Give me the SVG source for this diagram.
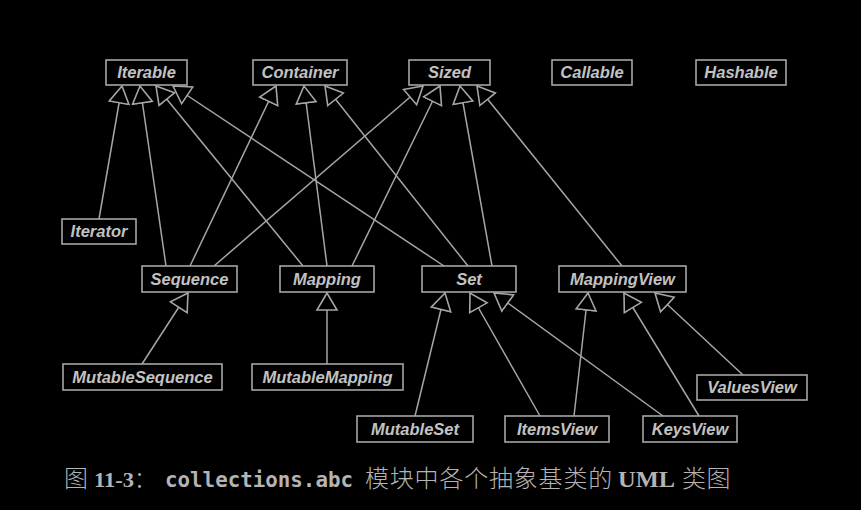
<svg xmlns="http://www.w3.org/2000/svg" width="861" height="510" viewBox="0 0 861 510">
<defs>
<style>
.box rect{fill:#000;stroke:#a6a6a6;stroke-width:1.6}
.box text{font-family:"Liberation Sans",Arial,sans-serif;font-weight:bold;font-style:italic;font-size:16.5px;fill:#c2c2c2;text-anchor:middle}
.conn line{stroke:#a6a6a6;stroke-width:1.5;marker-end:url(#inh)}
.cap{fill:#b4b4b4}
.cjk{font-family:"Noto Sans CJK SC",sans-serif;font-weight:300}
</style>
<marker id="inh" viewBox="-1 -12 20 24" markerWidth="20" markerHeight="24" refX="17" refY="0" orient="auto" markerUnits="userSpaceOnUse">
<path d="M17,0 L0,-10 L0,10 Z" fill="#000" stroke="#a6a6a6" stroke-width="1.6" stroke-linejoin="miter"/>
</marker>
</defs>
<rect width="861" height="510" fill="#000"/>
<g id="connectors" class="conn">
<line x1="99" y1="219" x2="122" y2="86"/>
<line x1="166" y1="266" x2="140" y2="86"/>
<line x1="303" y1="266" x2="156" y2="86"/>
<line x1="444" y1="266" x2="173" y2="86"/>
<line x1="190" y1="266" x2="276" y2="86"/>
<line x1="327" y1="266" x2="304" y2="86"/>
<line x1="468" y1="266" x2="325" y2="86"/>
<line x1="214" y1="266" x2="423" y2="86"/>
<line x1="352" y1="266" x2="440" y2="86"/>
<line x1="492" y1="266" x2="460" y2="86"/>
<line x1="622" y1="266" x2="477" y2="86"/>
<line x1="142" y1="364" x2="188" y2="293"/>
<line x1="327" y1="364" x2="327" y2="293"/>
<line x1="415" y1="416" x2="445" y2="293"/>
<line x1="540" y1="416" x2="470" y2="293"/>
<line x1="574" y1="416" x2="588" y2="293"/>
<line x1="663" y1="416" x2="494" y2="293"/>
<line x1="699" y1="416" x2="624" y2="293"/>
<line x1="743" y1="375" x2="655" y2="293"/>
</g>
<g id="Iterable" class="box"><rect x="106" y="60" width="81" height="25"/><text x="146.5" y="78">Iterable</text></g>
<g id="Container" class="box"><rect x="253" y="60" width="94" height="25"/><text x="300" y="78">Container</text></g>
<g id="Sized" class="box"><rect x="409" y="60" width="81" height="25"/><text x="449.5" y="78">Sized</text></g>
<g id="Callable" class="box"><rect x="552" y="60" width="80" height="25"/><text x="592" y="78">Callable</text></g>
<g id="Hashable" class="box"><rect x="696" y="60" width="90" height="25"/><text x="741" y="78">Hashable</text></g>
<g id="Iterator" class="box"><rect x="62" y="219" width="74" height="25"/><text x="99" y="237">Iterator</text></g>
<g id="Sequence" class="box"><rect x="142" y="266" width="95" height="26"/><text x="189.5" y="284.5">Sequence</text></g>
<g id="Mapping" class="box"><rect x="280" y="266" width="94" height="26"/><text x="327" y="284.5">Mapping</text></g>
<g id="Set" class="box"><rect x="422" y="266" width="94" height="26"/><text x="469" y="284.5">Set</text></g>
<g id="MappingView" class="box"><rect x="559" y="266" width="127" height="26"/><text x="622.5" y="284.5">MappingView</text></g>
<g id="MutableSequence" class="box"><rect x="63" y="364" width="159" height="26"/><text x="142.5" y="382.5">MutableSequence</text></g>
<g id="MutableMapping" class="box"><rect x="252" y="364" width="151" height="26"/><text x="327.5" y="382.5">MutableMapping</text></g>
<g id="ValuesView" class="box"><rect x="697" y="375" width="110" height="25"/><text x="752" y="393">ValuesView</text></g>
<g id="MutableSet" class="box"><rect x="357" y="416" width="116" height="26"/><text x="415" y="434.5">MutableSet</text></g>
<g id="ItemsView" class="box"><rect x="505" y="416" width="104" height="26"/><text x="557" y="434.5">ItemsView</text></g>
<g id="KeysView" class="box"><rect x="643" y="416" width="94" height="26"/><text x="690" y="434.5">KeysView</text></g>
<g id="caption" class="cap">
<text x="64" y="487" font-size="24" class="cjk">图</text>
<text x="94" y="487" font-size="22" font-weight="bold" font-family="'Liberation Serif',serif" textLength="40" lengthAdjust="spacingAndGlyphs">11-3</text>
<text x="134" y="487" font-size="22" class="cjk">：</text>
<text x="165" y="487" font-size="20.8" font-weight="bold" font-family="'DejaVu Sans Mono','Liberation Mono',monospace" textLength="188" lengthAdjust="spacingAndGlyphs">collections.abc</text>
<text x="365" y="487" font-size="24" letter-spacing="0.8" class="cjk">模块中各个抽象基类的</text>
<text x="618" y="487" font-size="24" font-weight="bold" font-family="'Liberation Serif',serif" textLength="57" lengthAdjust="spacingAndGlyphs">UML</text>
<text x="682" y="487" font-size="24" letter-spacing="0.5" class="cjk">类图</text>
</g>
</svg>
